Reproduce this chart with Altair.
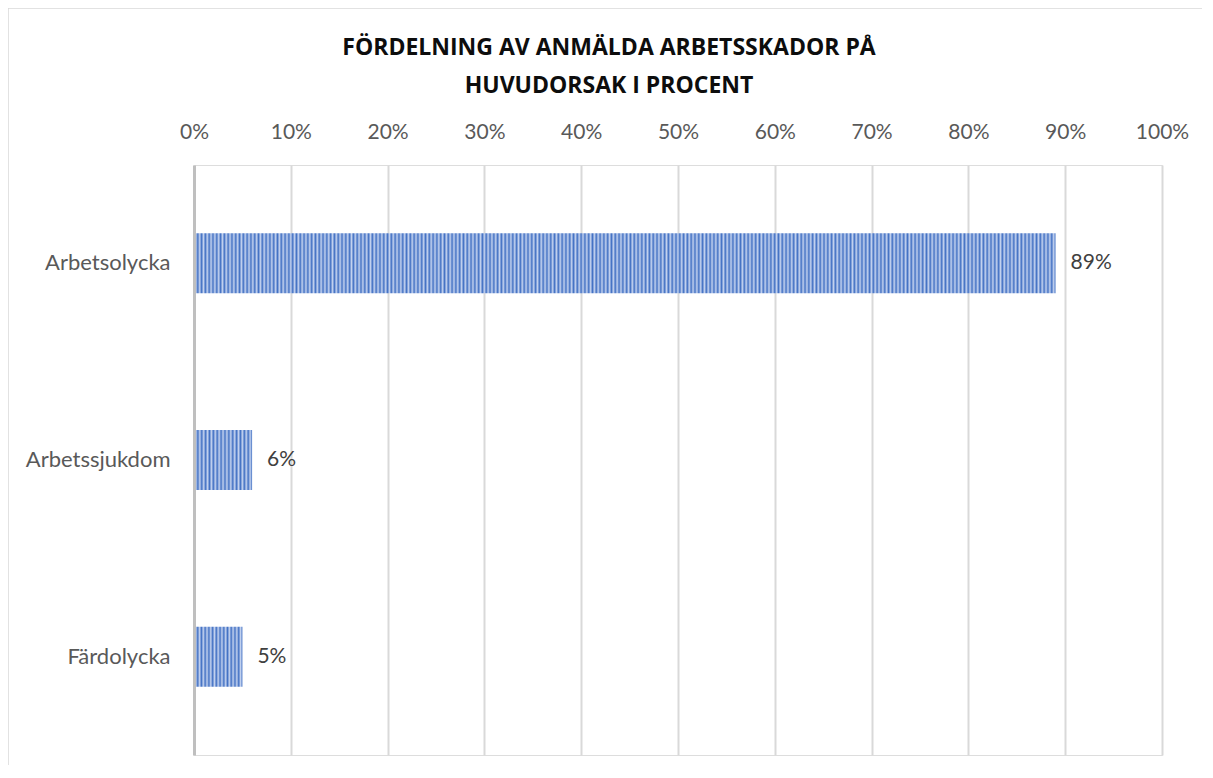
import altair as alt
import pandas as pd

# ---- data ----
categories = ["Arbetsolycka", "Arbetssjukdom", "Färdolycka"]
shares = [0.89, 0.06, 0.05]
x_ticks = [0.0, 0.1, 0.2, 0.3, 0.4, 0.5, 0.6, 0.7, 0.8, 0.9, 1.0]
title_lines = ["FÖRDELNING AV ANMÄLDA ARBETSSKADOR PÅ", "HUVUDORSAK I PROCENT"]

df = pd.DataFrame({"cat": categories, "share": shares})

W, H = 968, 590
PAD = {"left": 186, "top": 157, "right": 40, "bottom": 10}
DARK = "#4472c4"
LIGHT = "#c3d2ef"
STRIPE_PX = 3.8
FONT = "Lato"


def stripes(n):
    stops = []
    for i in range(n):
        stops.append({"offset": i / n, "color": DARK})
        stops.append({"offset": (i + 0.5) / n, "color": LIGHT})
    stops.append({"offset": 1, "color": DARK})
    return {"gradient": "linear", "x1": 0, "y1": 0, "x2": 1, "y2": 0, "stops": stops}


x_enc = alt.X(
    "share:Q",
    scale=alt.Scale(domain=[0, 1], nice=False, zero=True),
    axis=alt.Axis(
        orient="top", values=x_ticks, format=".0%", grid=True,
        gridColor="#d9d9d9", gridWidth=2, ticks=False, domain=False,
        labelPadding=23, labelFontSize=21, labelColor="#595959",
        labelFont=FONT, labelFlush=False, title=None,
    ),
)
y_enc = alt.Y(
    "cat:N", sort=categories,
    scale=alt.Scale(paddingInner=0.695, paddingOuter=0.3475),
    axis=alt.Axis(
        domainColor="#bfbfbf", domainWidth=3, ticks=False, labelPadding=24,
        labelFontSize=22, labelColor="#595959", labelFont=FONT,
        title=None, grid=False, zindex=1,
    ),
)

base = alt.Chart(df)
bar_layers = []
for c, v in zip(categories, shares):
    n = max(1, round(v * W / STRIPE_PX))
    bar_layers.append(
        base.transform_filter(alt.datum.cat == c)
        .mark_bar(color=stripes(n))
        .encode(x=x_enc, y=y_enc)
    )

labels = base.mark_text(
    align="left", baseline="middle", dx=15, fontSize=21,
    color="#404040", font=FONT,
).encode(x=x_enc, y=y_enc, text=alt.Text("share:Q", format=".0%"))

frame_df = pd.DataFrame({"k": [0]})
frame_left = alt.Chart(frame_df).mark_rule(color="#d9d9d9", strokeWidth=1.5).encode(
    x=alt.value(-186), y=alt.value(-157), y2=alt.value(H + 10)
)
frame_top = alt.Chart(frame_df).mark_rule(color="#d9d9d9", strokeWidth=1.5).encode(
    x=alt.value(-186), x2=alt.value(W + 40), y=alt.value(-157)
)

chart = alt.layer(frame_left, frame_top, *bar_layers, labels).properties(
    width=W, height=H,
    padding=PAD,
    autosize=alt.AutoSizeParams(type="none"),
    title=alt.TitleParams(
        text=title_lines, font="Open Sans", fontSize=23, fontWeight="bold",
        color="#0d0d0d", anchor="middle", dx=-69, offset=0, dy=91,
        baseline="top", lineHeight=38,
    ),
).configure_view(stroke=None).configure(background="white")

chart.save("out.html", embed_options={"renderer": "svg", "actions": False})
